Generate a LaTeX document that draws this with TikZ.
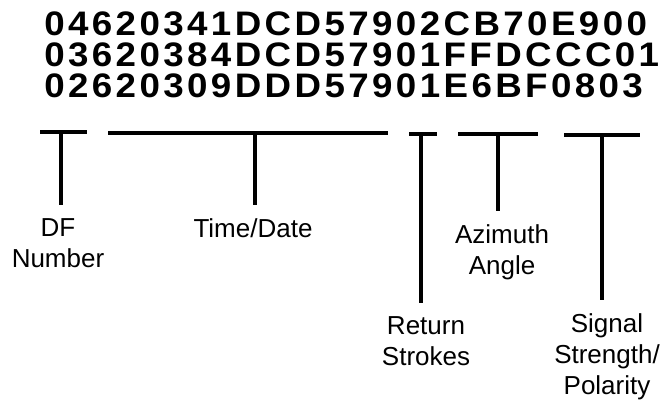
\documentclass[tikz,border=0pt]{standalone}
\usepackage{fontspec}
\setmainfont{Liberation Sans}
\newfontfamily\codefont[FakeStretch=1.08,LetterSpace=10]{Liberation Sans Bold}
\begin{document}
\begin{tikzpicture}[x=0.75pt,y=-0.75pt,
  coderow/.style={anchor=base west,inner sep=0pt,font=\codefont\fontsize{25.5}{25.5}\selectfont},
  lbl/.style={anchor=base,inner sep=0pt,align=center,font=\fontsize{19.5}{23.25}\selectfont},
  bar/.style={line width=2.6pt},
  stem/.style={line width=2.4pt,shorten >=9.5pt}]
\useasboundingbox (0,0) rectangle (667,405);
\node[coderow] (r1) at (44,35) {04620341DCD57902CB70E900};
\node[coderow] (r2) at (44,66) {03620384DCD57901FFDCCC01};
\node[coderow] (r3) at (44,97) {02620309DDD57901E6BF0803};
% bars
\coordinate (dfL) at (40,132);  \coordinate (dfR) at (87,132);  \coordinate (dfM) at (61,132);
\coordinate (tdL) at (108,133); \coordinate (tdR) at (388,133); \coordinate (tdM) at (255,133);
\coordinate (rsL) at (409,134); \coordinate (rsR) at (437,134); \coordinate (rsM) at (421,134);
\coordinate (azL) at (458,134); \coordinate (azR) at (538,134); \coordinate (azM) at (498,134);
\coordinate (ssL) at (564,135); \coordinate (ssR) at (640,135); \coordinate (ssM) at (602,135);
\draw[bar] (dfL) -- (dfR);
\draw[bar] (tdL) -- (tdR);
\draw[bar] (rsL) -- (rsR);
\draw[bar] (azL) -- (azR);
\draw[bar] (ssL) -- (ssR);
% labels (base = baseline of the last line)
\node[lbl] (df) at (58,267) {DF\\Number};
\node[lbl] (td) at (253,237) {Time/Date};
\node[lbl] (az) at (502,274) {Azimuth\\Angle};
\node[lbl] (rs) at (426,365) {Return\\Strokes};
\node[lbl] (ss) at (607,394) {Signal\\Strength/\\Polarity};
% stems
\draw[stem] (dfM) -- (dfM |- df.north);
\draw[stem] (tdM) -- (tdM |- td.north);
\draw[stem] (azM) -- (azM |- az.north);
\draw[stem] (rsM) -- (rsM |- rs.north);
\draw[stem] (ssM) -- (ssM |- ss.north);
\end{tikzpicture}
\end{document}
